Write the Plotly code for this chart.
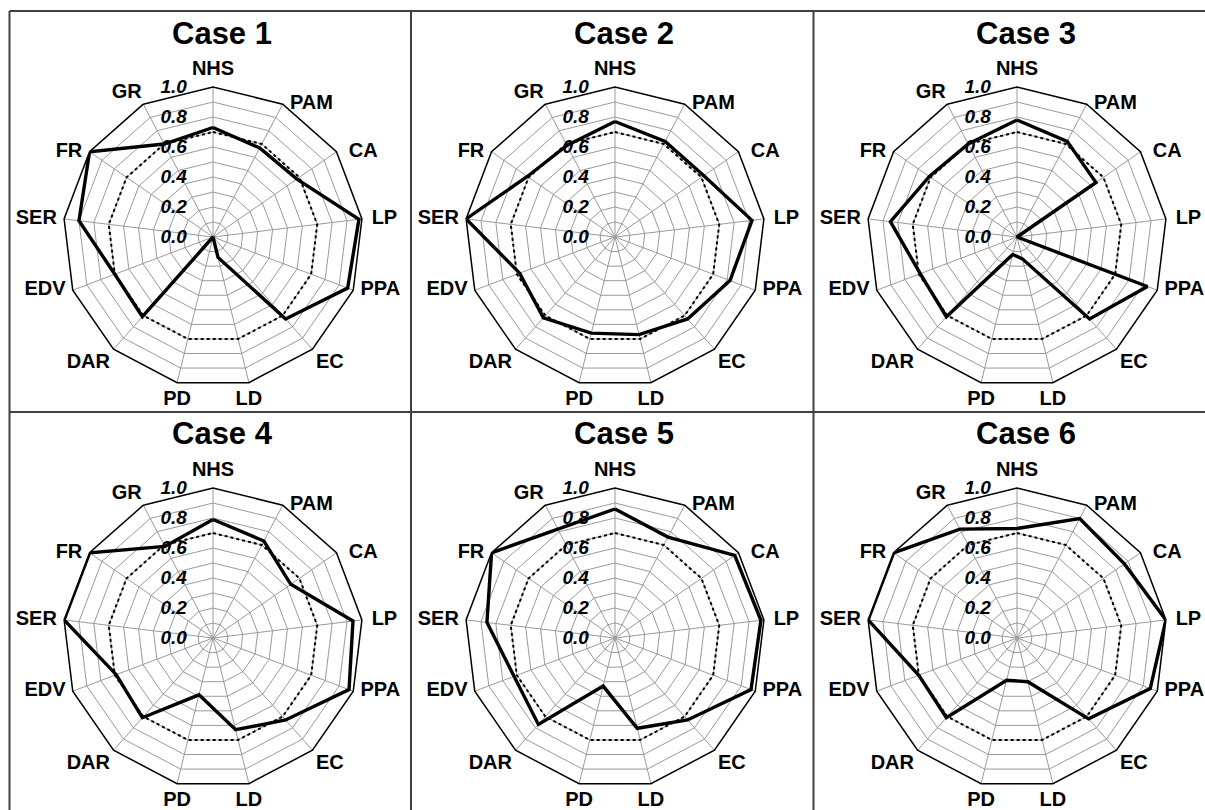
import plotly.graph_objects as go

# Criteria around each radar, clockwise from the top
categories = ["NHS", "PAM", "CA", "LP", "PPA", "EC", "LD", "PD", "DAR", "EDV", "SER", "FR", "GR"]

case_titles = ["Case 1", "Case 2", "Case 3", "Case 4", "Case 5", "Case 6"]

case1 = [0.73, 0.67, 0.68, 0.98, 0.96, 0.73, 0.14, 0.00, 0.71, 0.70, 0.90, 1.00, 0.70]
case2 = [0.77, 0.72, 0.72, 0.92, 0.82, 0.73, 0.67, 0.66, 0.72, 0.68, 1.00, 0.71, 0.69]
case3 = [0.78, 0.72, 0.64, 0.00, 0.93, 0.73, 0.15, 0.12, 0.71, 0.69, 0.85, 0.71, 0.70]
case4 = [0.79, 0.73, 0.63, 0.94, 0.97, 0.73, 0.63, 0.39, 0.71, 0.69, 1.00, 1.00, 0.69]
case5 = [0.86, 0.76, 0.97, 0.98, 0.97, 0.73, 0.62, 0.33, 0.77, 0.72, 0.86, 1.00, 0.82]
case6 = [0.73, 0.90, 0.87, 1.00, 0.95, 0.72, 0.30, 0.29, 0.71, 0.70, 1.00, 1.00, 0.82]

# Reference level drawn as a dotted ring
threshold = 0.70

# Radial ticks: rings every 0.1, labels every 0.2
radial_ticks = [0.0, 0.1, 0.2, 0.3, 0.4, 0.5, 0.6, 0.7, 0.8, 0.9, 1.0]
radial_labels = ["0.0", "", "0.2", "", "0.4", "", "0.6", "", "0.8", "", "1.0"]

# Where each category name sits relative to its outer vertex, and how far out
label_positions = ["top center", "middle right", "middle right", "middle right", "middle right",
                   "bottom right", "bottom center", "bottom center", "bottom left",
                   "middle left", "middle left", "middle left", "top left"]
label_gap = [10, 10, 18, 14, 10, 4, 10, 10, 4, 10, 10, 10, 1]

cases = [case1, case2, case3, case4, case5, case6]

W, H = 1205, 810
R = 150                       # radar radius in px
col_cx = [213, 615, 1017]     # radar centres (px)
row_cy = [237, 638]
panel_x = [9.5, 411, 813.5, 1216]
panel_y = [11, 412, 813]

FONT = "Liberation Sans, Arial, sans-serif"

fig = go.Figure()
layout_polars = {}
annotations = []

for i, (title, vals) in enumerate(zip(case_titles, cases)):
    row, col = divmod(i, 3)
    cx, cy = col_cx[col], row_cy[row]
    pname = "polar" if i == 0 else f"polar{i + 1}"

    theta = categories + [categories[0]]

    fig.add_trace(go.Scatterpolar(
        r=[threshold] * len(categories) + [threshold], theta=theta,
        mode="lines", line=dict(color="black", width=2, dash="dot"),
        subplot=pname, showlegend=False, hoverinfo="skip"))

    fig.add_trace(go.Scatterpolar(
        r=vals + [vals[0]], theta=theta,
        mode="lines", line=dict(color="black", width=3.4),
        subplot=pname, showlegend=False, name=title))

    # category names at the outer ring
    fig.add_trace(go.Scatterpolar(
        r=[1.0] * len(categories), theta=categories,
        mode="markers+text", text=categories, textposition=label_positions,
        marker=dict(size=label_gap, opacity=0),
        textfont=dict(family=FONT, size=20, color="black", weight="bold"),
        cliponaxis=False, subplot=pname, showlegend=False, hoverinfo="skip"))

    layout_polars[pname] = dict(
        domain=dict(x=[(cx - R) / W, (cx + R) / W],
                    y=[1 - (cy + R) / H, 1 - (cy - R) / H]),
        gridshape="linear",
        bgcolor="white",
        angularaxis=dict(
            direction="clockwise", rotation=90,
            categoryorder="array", categoryarray=categories,
            showline=True, linecolor="black", linewidth=1.5,
            showgrid=True, gridcolor="#9a9a9a", gridwidth=1,
            ticks="", showticklabels=False,
        ),
        radialaxis=dict(
            range=[0, 1], angle=90, side="counterclockwise",
            tickvals=radial_ticks, ticktext=radial_labels,
            showline=False,
            showgrid=True, gridcolor="#9a9a9a", gridwidth=1,
            ticks="outside", ticklen=19, tickcolor="rgba(0,0,0,0)",
            tickangle=90,
            tickfont=dict(family=FONT, size=19, color="black",
                          weight="bold", style="italic"),
        ),
    )

    annotations.append(dict(
        text=title, x=(cx + 9) / W, y=1 - (33 if row == 0 else 433) / H,
        xref="paper", yref="paper", showarrow=False,
        xanchor="center", yanchor="middle",
        font=dict(family=FONT, size=31, color="black", weight="bold")))

# Panel frame lines
shapes = []
for x in panel_x:
    shapes.append(dict(type="line", xref="paper", yref="paper",
                       x0=x / W, x1=x / W, y0=1 - panel_y[0] / H, y1=1 - panel_y[-1] / H,
                       line=dict(color="#404040", width=2)))
for y in panel_y:
    shapes.append(dict(type="line", xref="paper", yref="paper",
                       x0=panel_x[0] / W, x1=panel_x[-1] / W, y0=1 - y / H, y1=1 - y / H,
                       line=dict(color="#404040", width=2)))

fig.update_layout(
    width=W, height=H,
    margin=dict(l=0, r=0, t=0, b=0),
    paper_bgcolor="white",
    showlegend=False,
    annotations=annotations,
    shapes=shapes,
    **layout_polars,
)

fig.write_html("out.html")
